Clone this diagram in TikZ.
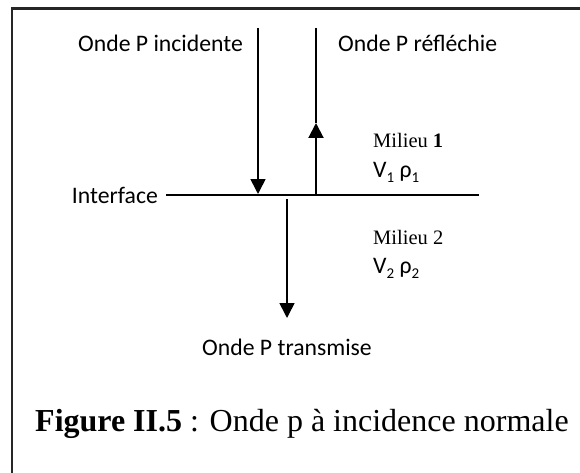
\documentclass[tikz,border=0pt]{standalone}
\usepackage{fontspec}
\setmainfont{Liberation Serif}
\newfontfamily\calib{Carlito}
\usetikzlibrary{arrows.meta}
% lowered index for V and rho
\newcommand\lowidx[1]{\raisebox{-0.22em}{\fontsize{15}{15}\selectfont #1}}
\begin{document}
\begin{tikzpicture}[x=1pt,y=-1pt,
  lbl/.style={inner sep=0pt, font=\calib\fontsize{23.7}{28}\selectfont},
  med/.style={inner sep=0pt, font=\fontsize{20.5}{24}\selectfont},
  ray/.style={line width=1.6pt},
  rayhead/.style={-{Triangle[width=15pt,length=15pt]}},
  ]
\useasboundingbox (0,0) rectangle (580,473);
\fill[white] (0,0) rectangle (580,473);
% frame
\draw[line width=2.4pt, black!85] (12,473) -- (12,8.5) -- (580,8.5);

% labels
\node[lbl, anchor=base west] (inc) at (78,52) {Onde P incidente};
\node[lbl, anchor=base west] (refl) at (338,52) {Onde P réfléchie};
\node[lbl, anchor=base east] (intf) at (158,203) {Interface};
\node[med, anchor=base west] (m1) at (373,148) {Milieu \textbf{1}};
\node[lbl, anchor=base west] (v1) at (373,177) {V\lowidx{1} ρ\lowidx{1}};
\node[med, anchor=base west] (m2) at (373,244) {Milieu 2};
\node[lbl, anchor=base west] (v2) at (373,273) {V\lowidx{2} ρ\lowidx{2}};
\node[lbl, anchor=base] (trans) at (287,355) {Onde P transmise};
\node[inner sep=0pt, anchor=base west, font=\fontsize{32}{38}\selectfont] (cap) at (35,431)
  {\textbf{Figure II.5} : Onde p à incidence normale};

% interface
\coordinate (ifL) at (166,195);
\coordinate (ifR) at (479,195);
\draw[line width=2pt] (ifL) -- (ifR);

% incident ray
\coordinate (inTop) at (258,28);
\coordinate (inHit) at (258,194);
\draw[ray, rayhead] (inTop) -- (inHit);

% reflected ray
\coordinate (rfTop) at (316,28);
\coordinate (rfHead) at (316,123);
\coordinate (rfBase) at (316,195);
\draw[line width=1.2pt] (rfTop) -- (rfHead);
\draw[line width=2pt, rayhead] (rfBase) -- (rfHead);

% transmitted ray
\coordinate (trTop) at (287,199);
\coordinate (trTip) at (287,318);
\draw[ray, rayhead] (trTop) -- (trTip);
\end{tikzpicture}
\end{document}
